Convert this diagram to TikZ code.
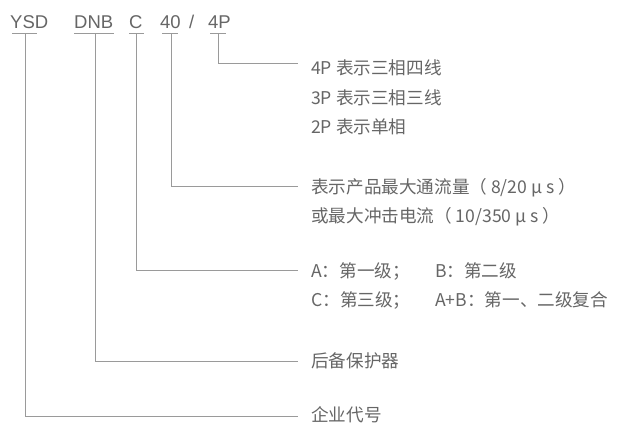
\documentclass[tikz,border=0pt]{standalone}
\usepackage{fontspec}
\setmainfont{Noto Sans CJK SC}
\newfontfamily\latinfont{Liberation Sans}
\definecolor{txtc}{HTML}{666666}
\definecolor{linec}{HTML}{9A9A9A}
\begin{document}
\begin{tikzpicture}[x=1pt,y=-1pt,
  code/.style={anchor=base west,inner sep=0pt,text=txtc,font=\latinfont\fontsize{18.5}{18.5}\selectfont},
  desc/.style={anchor=base west,inner sep=0pt,text=txtc,font=\fontsize{17.6}{17.6}\selectfont},
  conn/.style={draw=linec,line width=0.8pt},
  uline/.style={draw=linec,line width=0.8pt}]
\useasboundingbox (0,0) rectangle (642,437);
\fill[white] (0,0) rectangle (642,437);
% top code
\node[code] (ysd) at (10,28) {YSD};
\node[code] (dnb) at (74,28) {DNB};
\node[code] (c) at (129,28) {C};
\node[code] (n40) at (160,28) {40};
\node[code] (slash) at (189,28) {/};
\node[code] (p4) at (208,28) {4P};
% underlines
\coordinate (uy1) at (12,33); \coordinate (uy2) at (37,33);
\coordinate (ud1) at (74,33); \coordinate (ud2) at (114,33);
\coordinate (uc1) at (129,33); \coordinate (uc2) at (144,33);
\coordinate (u41) at (162,33); \coordinate (u42) at (178,33);
\coordinate (up1) at (210,33); \coordinate (up2) at (226,33);
\draw[uline] (uy1) -- (uy2);
\draw[uline] (ud1) -- (ud2);
\draw[uline] (uc1) -- (uc2);
\draw[uline] (u41) -- (u42);
\draw[uline] (up1) -- (up2);
% descriptions
\node[desc] (d4p) at (311,74) {4P 表示三相四线};
\node[desc] (d3p) at (311,104) {3P 表示三相三线};
\node[desc] (d2p) at (311,133.5) {2P 表示单相};
\node[desc] (d40a) at (311,193) {表示产品最大通流量（ 8/20 μ s ）};
\node[desc] (d40b) at (311,222) {或最大冲击电流（ 10/350 μ s ）};
\node[desc] (dca) at (311,277) {A：第一级；};
\node[desc] (dcb) at (435,277) {B：第二级};
\node[desc] (dcc) at (311,306.5) {C：第三级；};
\node[desc] (dcd) at (435,306.5) {A+B：第一、二级复合};
\node[desc] (ddnb) at (311,367.5) {后备保护器};
\node[desc] (dysd) at (311,421.5) {企业代号};
% connectors
\coordinate (e4p) at (298,63.5);
\coordinate (e40) at (298,186.5);
\coordinate (ec) at (298,270);
\coordinate (ednb) at (298,361.5);
\coordinate (eysd) at (298,416);
\draw[conn] (218,33) |- (e4p);
\draw[conn] (171.5,33) |- (e40);
\draw[conn] (136,33) |- (ec);
\draw[conn] (95.5,33) |- (ednb);
\draw[conn] (25.5,33) |- (eysd);
\end{tikzpicture}
\end{document}
